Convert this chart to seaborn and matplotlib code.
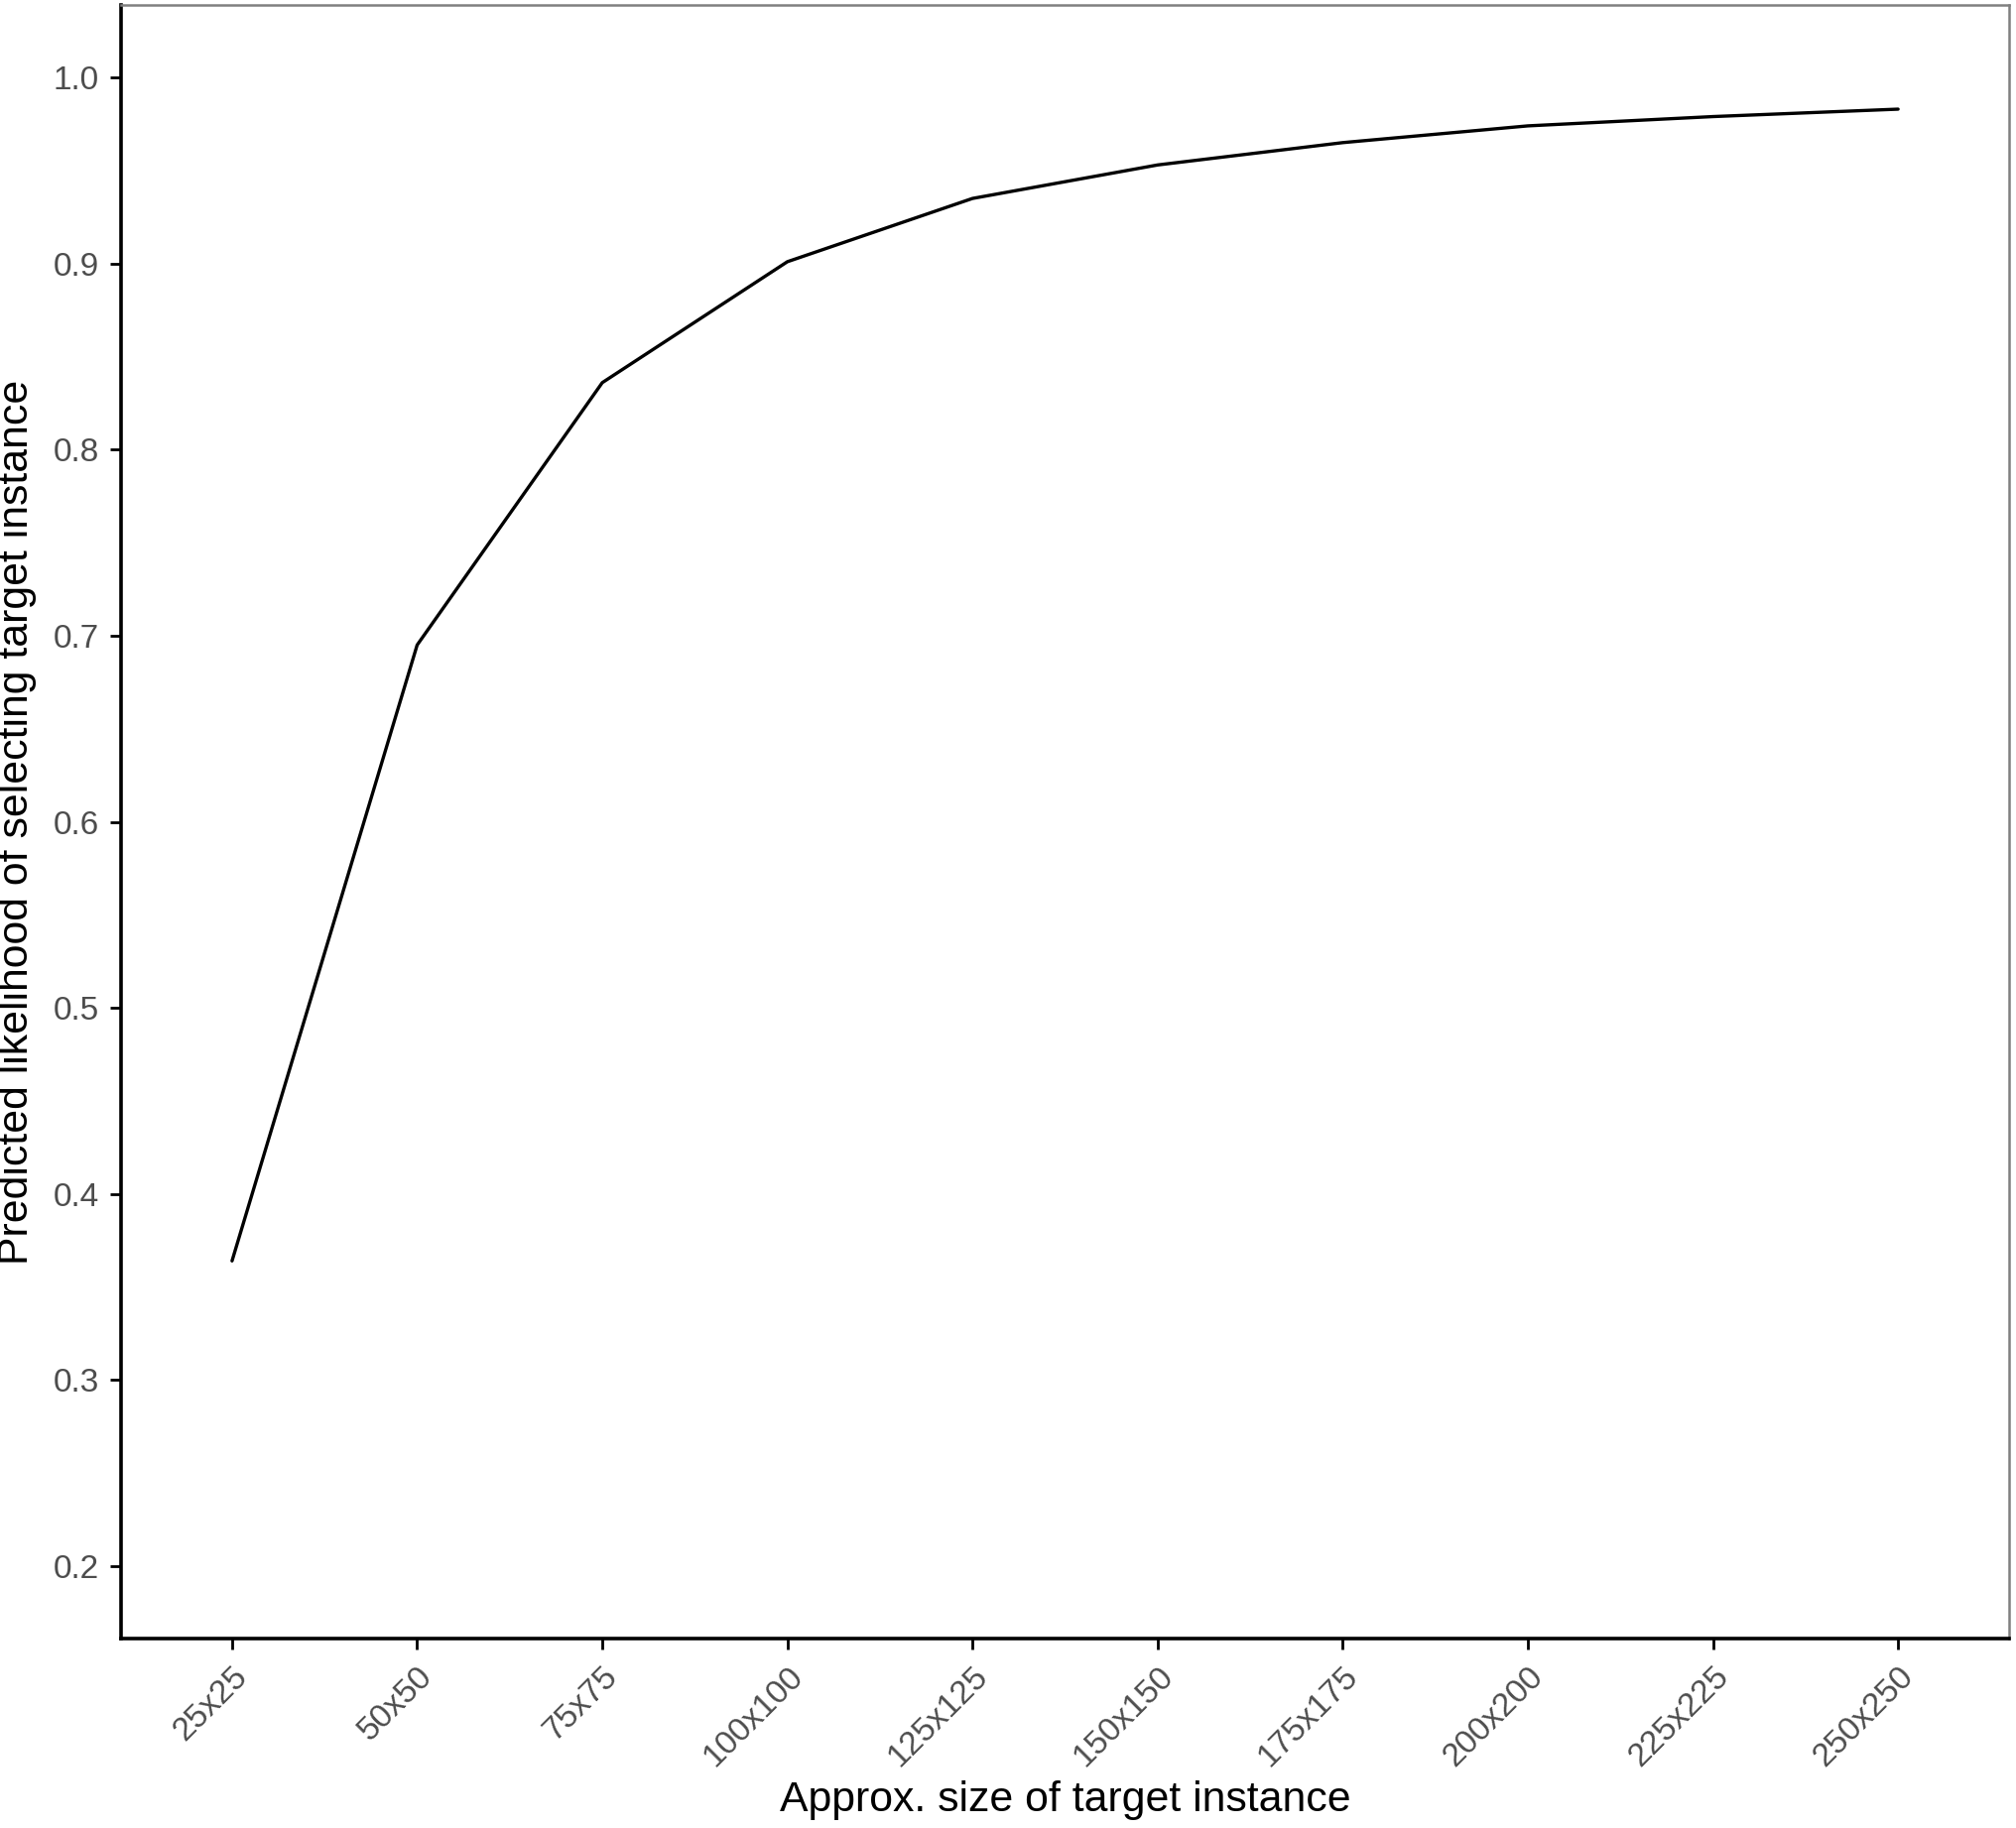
import pandas as pd
import numpy as np
import seaborn as sns
import matplotlib.pyplot as plt

sizes = ['25x25', '50x50', '75x75', '100x100', '125x125',
         '150x150', '175x175', '200x200', '225x225', '250x250']
likelihood = [0.364, 0.695, 0.836, 0.901, 0.935, 0.953, 0.965, 0.974, 0.979, 0.983]
y_ticks = [0.2, 0.3, 0.4, 0.5, 0.6, 0.7, 0.8, 0.9, 1.0]

df = pd.DataFrame({'size': sizes, 'pred': likelihood})

sns.set_style('white')
plt.rcParams['font.family'] = ['Liberation Sans', 'DejaVu Sans']

fig = plt.figure(figsize=(10.16, 9.215), dpi=200)
ax = fig.add_axes([0.060, 0.1036, 0.9366, 0.8937])

sns.lineplot(data=df, x='size', y='pred', color='black', linewidth=1.2, ax=ax, sort=False)

ax.set_xlim(-0.6, 9.6)
ax.set_ylim(0.161, 1.039)
ax.set_yticks(y_ticks)
ax.set_yticklabels(['%.1f' % v for v in y_ticks])

for s in ['left', 'bottom']:
    ax.spines[s].set_color('black')
    ax.spines[s].set_linewidth(1.3)
for s in ['top', 'right']:
    ax.spines[s].set_color('#808080')
    ax.spines[s].set_linewidth(0.9)

ax.tick_params(axis='both', which='major', length=4, width=1.0, color='black',
               labelsize=12, labelcolor='#4D4D4D', pad=4,
               bottom=True, left=True)
plt.setp(ax.get_xticklabels(), rotation=45, ha='right', va='top', rotation_mode='anchor')

ax.set_xlabel('Approx. size of target instance', fontsize=15.4, color='black', labelpad=3)
ax.set_ylabel('Predicted likelihood of selecting target instance', fontsize=15.4,
              color='black', labelpad=6)

plt.savefig('out.png', dpi=200)
plt.close()
